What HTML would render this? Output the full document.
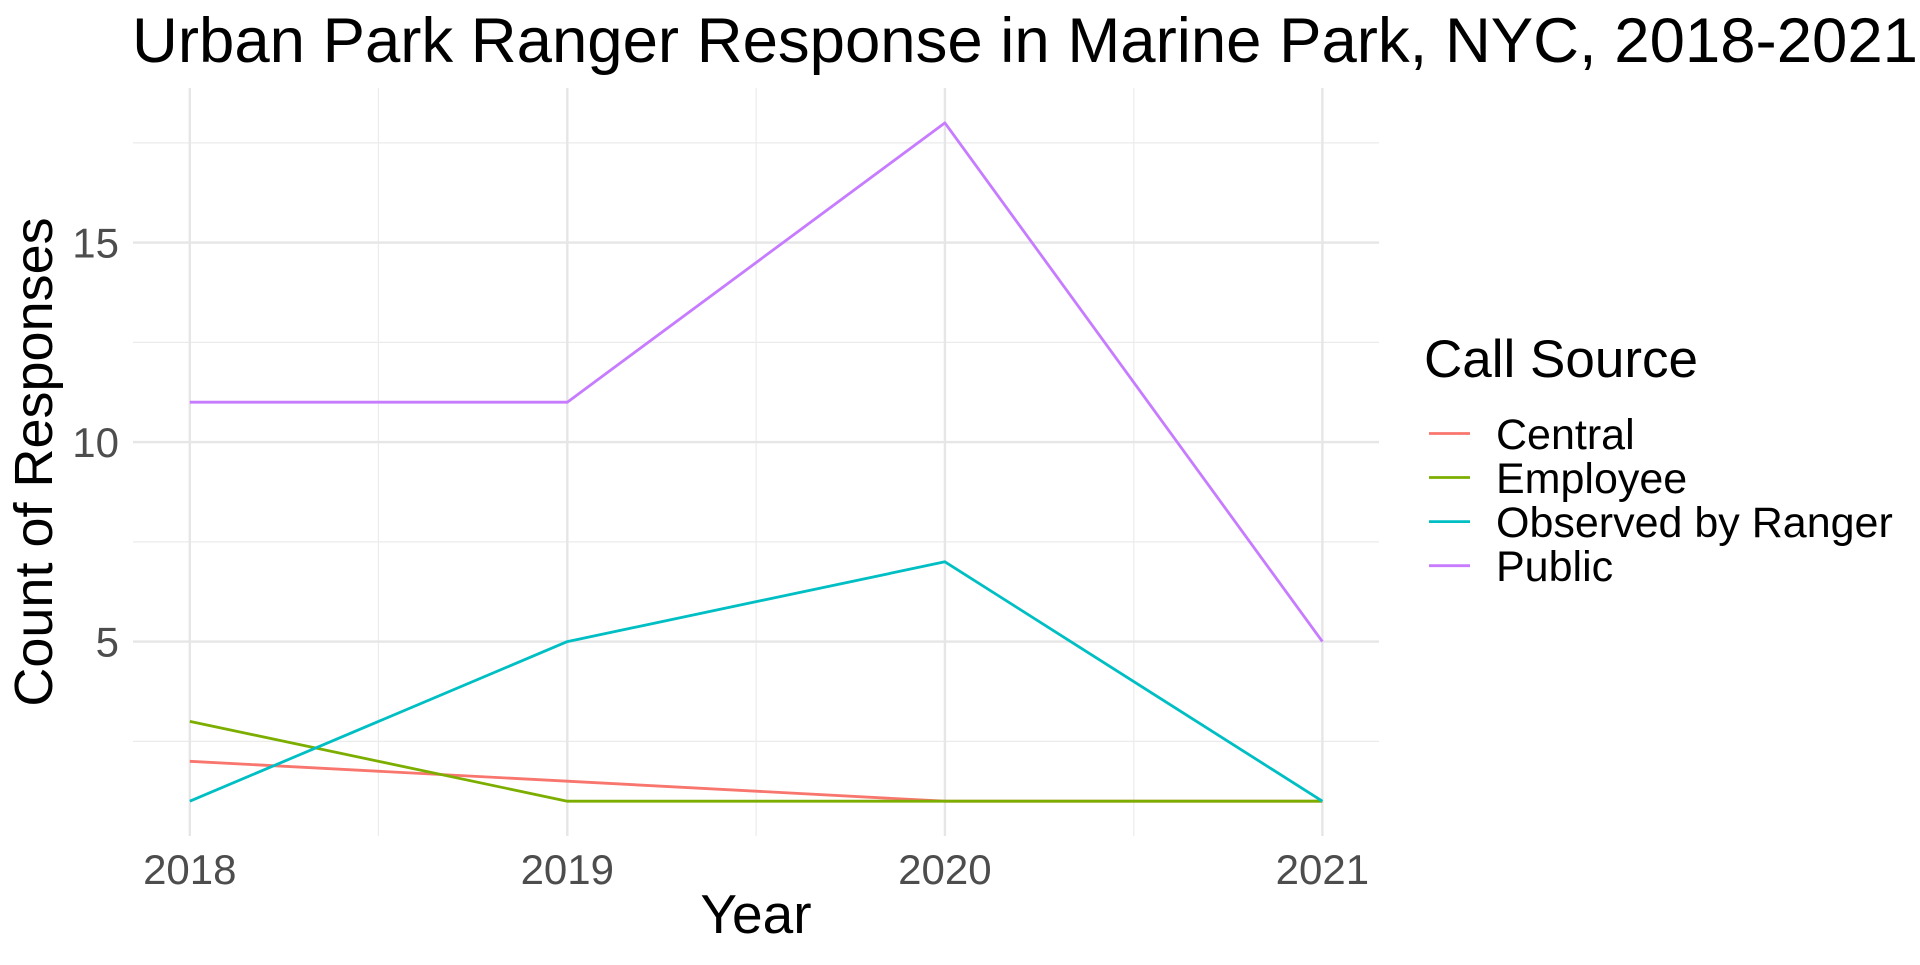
<!DOCTYPE html>
<html><head><meta charset="utf-8"><style>html,body{margin:0;padding:0;background:#fff}</style></head>
<body>
<svg width="1920" height="960" viewBox="0 0 1920 960" xmlns="http://www.w3.org/2000/svg" font-family="Liberation Sans, Arial, sans-serif">
<rect width="1920" height="960" fill="#fff"/>
<g stroke="#ebebeb" stroke-width="1.2">
<line x1="133" x2="1379" y1="741.4" y2="741.4"/>
<line x1="133" x2="1379" y1="541.9" y2="541.9"/>
<line x1="133" x2="1379" y1="342.4" y2="342.4"/>
<line x1="133" x2="1379" y1="142.9" y2="142.9"/>
<line y1="88" y2="836" x1="378.4" x2="378.4"/>
<line y1="88" y2="836" x1="756.1" x2="756.1"/>
<line y1="88" y2="836" x1="1133.8" x2="1133.8"/>
</g>
<g stroke="#e6e6e6" stroke-width="2.4">
<line x1="133" x2="1379" y1="641.6" y2="641.6"/>
<line x1="133" x2="1379" y1="442.1" y2="442.1"/>
<line x1="133" x2="1379" y1="242.6" y2="242.6"/>
<line y1="88" y2="836" x1="189.8" x2="189.8"/>
<line y1="88" y2="836" x1="567.3" x2="567.3"/>
<line y1="88" y2="836" x1="944.9" x2="944.9"/>
<line y1="88" y2="836" x1="1322.4" x2="1322.4"/>
</g>
<g fill="none" stroke-width="2.8" stroke-linejoin="round">
<polyline stroke="#F8766D" points="189.8,761.3 567.3,781.2 944.9,801.2 1322.4,801.2"/>
<polyline stroke="#7CAE00" points="189.8,721.4 567.3,801.2 944.9,801.2 1322.4,801.2"/>
<polyline stroke="#00BFC4" points="189.8,801.2 567.3,641.6 944.9,561.8 1322.4,801.2"/>
<polyline stroke="#C77CFF" points="189.8,402.2 567.3,402.2 944.9,122.9 1322.4,641.6"/>
</g>
<g fill="#4d4d4d" font-size="42">
<text x="119" y="656.5" text-anchor="end">5</text>
<text x="119" y="457" text-anchor="end">10</text>
<text x="119" y="257.5" text-anchor="end">15</text>
<text x="189.8" y="884" text-anchor="middle">2018</text>
<text x="567.3" y="884" text-anchor="middle">2019</text>
<text x="944.9" y="884" text-anchor="middle">2020</text>
<text x="1322.4" y="884" text-anchor="middle">2021</text>
</g>
<text x="756" y="933" text-anchor="middle" font-size="55" fill="#000">Year</text>
<text transform="translate(52,462) rotate(-90)" text-anchor="middle" font-size="54" fill="#000">Count of Responses</text>
<text x="132" y="62" font-size="63.5" fill="#000">Urban Park Ranger Response in Marine Park, NYC, 2018-2021</text>
<text x="1424" y="377" font-size="53" fill="#000">Call Source</text>
<g stroke-width="2.8">
<line x1="1429" x2="1470" y1="433.5" y2="433.5" stroke="#F8766D"/>
<line x1="1429" x2="1470" y1="477.5" y2="477.5" stroke="#7CAE00"/>
<line x1="1429" x2="1470" y1="521.6" y2="521.6" stroke="#00BFC4"/>
<line x1="1429" x2="1470" y1="565.7" y2="565.7" stroke="#C77CFF"/>
</g>
<g font-size="43" fill="#000">
<text x="1496" y="449">Central</text>
<text x="1496" y="493">Employee</text>
<text x="1496" y="537">Observed by Ranger</text>
<text x="1496" y="581">Public</text>
</g>
</svg>
</body></html>
